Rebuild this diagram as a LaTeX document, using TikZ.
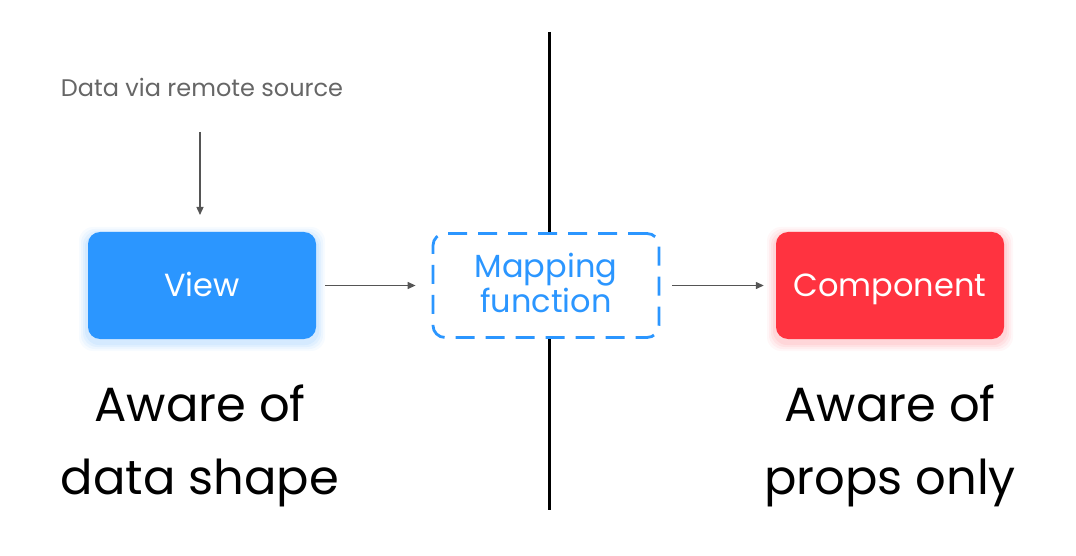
\documentclass[tikz,border=0pt]{standalone}
\usepackage{fontspec}
\setmainfont{Poppins}
\usetikzlibrary{arrows.meta}
\definecolor{vblue}{HTML}{2B96FF}
\definecolor{cred}{HTML}{FF3340}
\definecolor{arrgray}{HTML}{555555}
\definecolor{txtgray}{HTML}{666666}
\tikzset{
  conn/.style={draw=arrgray, line width=1.3pt, -{Triangle[length=8pt,width=7pt]}},
  solidbox/.style={rounded corners=12pt, minimum width=228pt, minimum height=107pt, text=white, font=\fontsize{32}{36}\selectfont, inner sep=0pt, text height=22pt, text depth=0pt},
  dashbox/.style={rounded corners=12pt, minimum width=226pt, minimum height=104pt, draw=vblue, line width=2.8pt, dash pattern=on 19pt off 11pt, fill=white, inner sep=0pt},
  maptext/.style={text=vblue, font=\fontsize{32}{32}\selectfont, align=center, inner sep=0pt, anchor=base},
  bigtext/.style={font=\fontsize{48}{73}\selectfont, align=center, text=black, inner sep=0pt, anchor=base},
}
\begin{document}
\begin{tikzpicture}[x=1pt,y=-1pt]
\useasboundingbox (0,0) rectangle (1076,556);
% shadows
\foreach \i/\o in {9/0.04,7/0.05,5/0.06,3/0.07} {
  \fill[vblue, opacity=\o, rounded corners=14pt] (88-\i,236-\i) rectangle (316+\i,339+\i+3);
  \fill[cred, opacity=\o, rounded corners=14pt] (776-\i,236-\i) rectangle (1004+\i,339+\i+3);
}
\draw[line width=3pt] (549,32) -- (549,510);
\node[solidbox, fill=vblue] (view) at (202,285.5) {View};
\node[solidbox, fill=cred] (comp) at (890,285.5) {Component};
\node[dashbox] (map) at (546,285.5) {};
\node[maptext] (maplabel) at (546,312) {Mapping\\function};
\node[font=\fontsize{24}{28}\selectfont, text=txtgray, anchor=base, inner sep=0pt] (data) at (202,97) {Data via remote source};
\coordinate (d1) at (200,132);
\coordinate (d2) at (200,215);
\draw[conn] (d1) -- (d2);
\draw[conn] ([xshift=9pt]view.east) -- ([xshift=-16pt]map.west);
\draw[conn] ([xshift=12pt]map.east) -- ([xshift=-12pt]comp.west);
\node[bigtext] (lt) at (200,494) {Aware of\\data shape};
\node[bigtext] (rt) at (890,494) {Aware of\\props only};
\end{tikzpicture}
\end{document}
